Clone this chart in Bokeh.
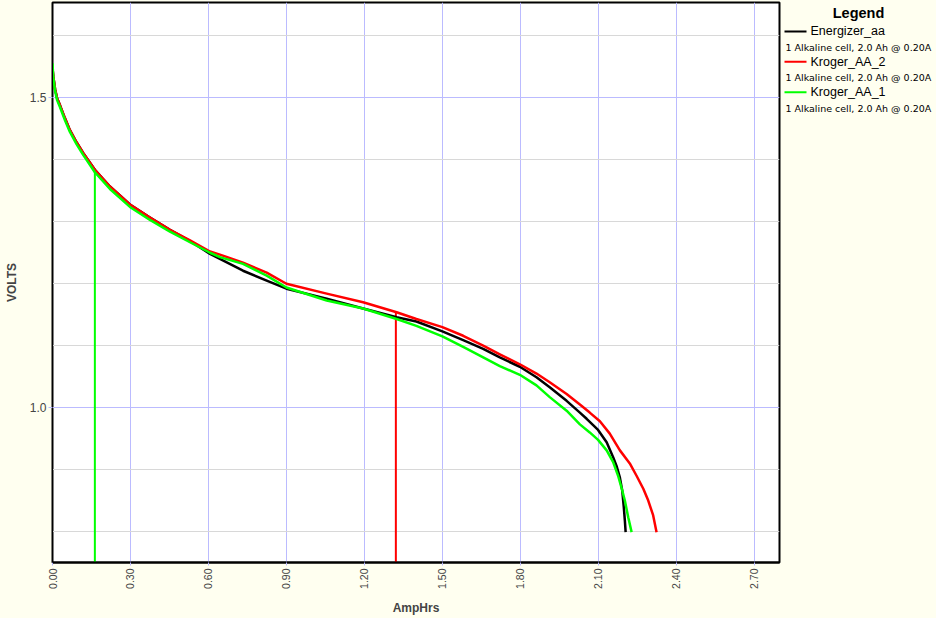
import math
from bokeh.plotting import figure
from bokeh.models import Range1d, FixedTicker, NumeralTickFormatter
from bokeh.layouts import row
from bokeh.embed import file_html
from bokeh.resources import INLINE
from bokeh.core.properties import value

# ---- data ----
energizer_x = [0.0, 0.003, 0.010, 0.018, 0.029, 0.048, 0.067, 0.093, 0.118, 0.163, 0.221,
               0.298, 0.375, 0.452, 0.529, 0.606, 0.644, 0.733, 0.824, 0.90, 1.055, 1.195,
               1.324, 1.40, 1.50, 1.580, 1.657, 1.721, 1.798, 1.862, 1.913, 1.978, 2.029,
               2.055, 2.099, 2.132, 2.157, 2.170, 2.183, 2.192, 2.198, 2.202, 2.205]
energizer_y = [1.548, 1.535, 1.514, 1.499, 1.488, 1.467, 1.448, 1.428, 1.411, 1.384, 1.357,
               1.328, 1.307, 1.287, 1.269, 1.248, 1.240, 1.221, 1.205, 1.192, 1.176, 1.160,
               1.146, 1.139, 1.123, 1.109, 1.095, 1.081, 1.066, 1.049, 1.033, 1.011, 0.992,
               0.982, 0.964, 0.944, 0.920, 0.906, 0.887, 0.866, 0.839, 0.818, 0.799]

kroger2_x = [0.0, 0.003, 0.010, 0.018, 0.029, 0.048, 0.067, 0.093, 0.118, 0.163, 0.221,
             0.298, 0.375, 0.452, 0.529, 0.606, 0.644, 0.733, 0.824, 0.90, 1.055, 1.195,
             1.324, 1.40, 1.50, 1.580, 1.657, 1.721, 1.798, 1.862, 1.913, 1.978, 2.029,
             2.067, 2.106, 2.144, 2.183, 2.221, 2.247, 2.273, 2.292, 2.311, 2.324]
kroger2_y = [1.548, 1.535, 1.514, 1.499, 1.488, 1.467, 1.448, 1.428, 1.411, 1.384, 1.357,
             1.328, 1.307, 1.287, 1.270, 1.252, 1.247, 1.234, 1.218, 1.200, 1.184, 1.170,
             1.154, 1.143, 1.130, 1.116, 1.100, 1.086, 1.070, 1.055, 1.041, 1.022, 1.005,
             0.992, 0.978, 0.958, 0.931, 0.910, 0.890, 0.869, 0.850, 0.826, 0.799]

kroger1_x = [0.0, 0.003, 0.010, 0.018, 0.029, 0.048, 0.067, 0.093, 0.118, 0.163, 0.221,
             0.298, 0.375, 0.452, 0.529, 0.606, 0.644, 0.733, 0.824, 0.90, 1.055, 1.195,
             1.324, 1.40, 1.50, 1.580, 1.657, 1.721, 1.798, 1.862, 1.913, 1.978, 2.029,
             2.067, 2.099, 2.132, 2.157, 2.176, 2.189, 2.202, 2.215, 2.228]
kroger1_y = [1.556, 1.533, 1.511, 1.496, 1.485, 1.464, 1.445, 1.425, 1.408, 1.380, 1.353,
             1.324, 1.303, 1.284, 1.267, 1.250, 1.243, 1.232, 1.213, 1.194, 1.173, 1.160,
             1.143, 1.132, 1.115, 1.098, 1.081, 1.067, 1.053, 1.036, 1.017, 0.995, 0.973,
             0.960, 0.948, 0.931, 0.912, 0.890, 0.871, 0.850, 0.823, 0.799]

# cursor markers (vertical lines)
marker_x = [0.163, 1.321]
marker_top = [1.381, 1.154]
marker_colors = ["#00FF00", "#FF0000"]

series_names = ["Energizer_aa", "Kroger_AA_2", "Kroger_AA_1"]
series_colors = ["#000000", "#FF0000", "#00FF00"]
series_note = "1 Alkaline cell, 2.0 Ah @ 0.20A"

x_ticks = [0.0, 0.3, 0.6, 0.9, 1.2, 1.5, 1.8, 2.1, 2.4, 2.7]
y_ticks = [1.0, 1.5]
y_minor = [0.8, 0.9, 1.1, 1.2, 1.3, 1.4, 1.6]
x_min, x_max = 0.0, 2.797
y_min, y_max = 0.75, 1.654

BG = "#FFFFF0"
GRID_BLUE = "#BBBBFF"
GRID_GREY = "#D8D8D8"
FONT = "Liberation Sans"

p = figure(width=782, height=618, x_range=Range1d(x_min, x_max), y_range=Range1d(y_min, y_max),
           output_backend="svg", toolbar_location=None,
           min_border_left=52, min_border_right=3, min_border_top=2, min_border_bottom=56,
           background_fill_color="white", border_fill_color=BG,
           outline_line_color="black", outline_line_width=2)

p.xaxis.ticker = FixedTicker(ticks=x_ticks)
p.xaxis.formatter = NumeralTickFormatter(format="0.00")
p.xaxis.major_label_orientation = math.pi / 2
p.xaxis.major_label_text_font = FONT
p.xaxis.major_label_text_font_size = "10.5px"
p.xaxis.major_label_standoff = 3
p.xaxis.major_tick_out = 3
p.xaxis.major_tick_in = 0
p.xaxis.major_tick_line_color = GRID_BLUE
p.xaxis.minor_tick_line_color = None
p.xaxis.axis_line_color = "black"
p.xaxis.axis_line_width = 2
p.xaxis.axis_label = "AmpHrs"
p.xaxis.axis_label_text_font = FONT
p.xaxis.axis_label_text_font_style = "bold"
p.xaxis.axis_label_text_font_size = "12px"
p.xaxis.axis_label_standoff = 9

p.yaxis.ticker = FixedTicker(ticks=y_ticks, minor_ticks=y_minor)
p.yaxis.formatter = NumeralTickFormatter(format="0.0")
p.yaxis.major_label_text_font = FONT
p.yaxis.major_label_text_font_size = "12px"
p.yaxis.major_label_standoff = 2
p.yaxis.major_tick_out = 4
p.yaxis.major_tick_in = 0
p.yaxis.major_tick_line_color = GRID_BLUE
p.yaxis.minor_tick_line_color = None
p.yaxis.axis_line_color = "black"
p.yaxis.axis_label = "VOLTS"
p.yaxis.axis_label_text_font = FONT
p.yaxis.axis_label_text_font_style = "bold"
p.yaxis.axis_label_text_font_size = "12px"
p.yaxis.axis_label_standoff = 8

p.xgrid.grid_line_color = GRID_BLUE
p.ygrid.grid_line_color = GRID_BLUE
p.ygrid.minor_grid_line_color = GRID_GREY

# markers
p.segment(x0=marker_x, y0=marker_top, x1=marker_x, y1=[y_min] * len(marker_x),
          line_color=marker_colors, line_width=2)

# curves
for xs, ys, c in [(energizer_x, energizer_y, series_colors[0]),
                  (kroger2_x, kroger2_y, series_colors[1]),
                  (kroger1_x, kroger1_y, series_colors[2])]:
    p.line(xs, ys, line_color=c, line_width=2.5, line_join="round")

# ---- legend panel ----
lg = figure(width=154, height=618, x_range=Range1d(782, 936), y_range=Range1d(618, 0),
            output_backend="svg", toolbar_location=None, min_border=0,
            x_axis_location=None, y_axis_location=None,
            background_fill_color=BG, border_fill_color=BG, outline_line_color=None)
lg.grid.grid_line_color = None

lg.text(x=[858], y=[11.5], text=["Legend"], text_font=value(FONT), text_font_style="bold",
        text_font_size="14.5px", text_align="center", text_baseline="middle", text_color="black")

line_y = [32, 65.5, 99]
note_y = [49.5, 83, 116.5]
lg.segment(x0=[784] * 3, y0=line_y, x1=[806] * 3, y1=line_y, line_color=series_colors, line_width=2)
lg.text(x=[810] * 3, y=line_y, text=series_names, text_font=value(FONT), text_font_size="12.5px",
        text_baseline="middle", text_color="black")
lg.text(x=[785] * 3, y=note_y, text=[series_note] * 3, text_font=value("DejaVu Sans"),
        text_font_size="9.5px", text_baseline="middle", text_color="black")

layout = row(p, lg)
html = file_html(layout, INLINE)
html = html.replace("<head>", "<head><style>html,body{margin:0;padding:0;background:%s;overflow:hidden;}</style>" % BG, 1)
open("out.html", "w").write(html)
